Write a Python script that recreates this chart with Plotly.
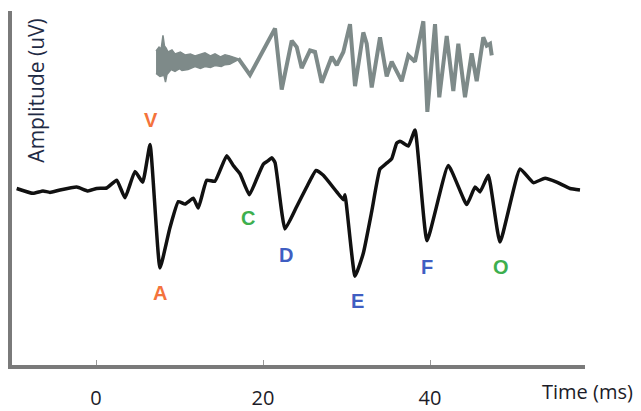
import plotly.graph_objects as go

# --- Speech ABR response (black) ---
resp_t = [-9.5, -7.54, -6.35, -5.51, -4.31, -2.31, -0.96, 0.08, 1.28, 2.48, 3.47, 4.67, 5.59,
          6.47, 7.66, 8.86, 9.86, 10.66, 11.65, 12.25, 13.26, 14.25, 15.65, 16.44, 17.25,
          18.36, 19.25, 20.04, 20.63, 21.04, 21.44, 22.63, 24.04, 25.23, 26.35, 27.22,
          28.83, 29.62, 29.82, 31.02, 32.01, 33.02, 34.01, 34.81, 35.41, 36.01, 36.41,
          37.40, 38.20, 39.64, 42.19, 44.40, 45.39, 45.99, 46.98, 48.38, 50.78, 52.37,
          53.77, 55.17, 56.77, 57.96]
resp_uv = [0.00, -0.10, -0.05, -0.08, -0.03, 0.03, -0.05, 0.00, 0.01, 0.17, -0.19, 0.35, 0.13,
           0.90, -1.63, -0.80, -0.27, -0.32, -0.20, -0.40, 0.17, 0.15, 0.67, 0.47, 0.30,
           -0.13, 0.20, 0.50, 0.57, 0.63, 0.53, -0.83, -0.37, 0.03, 0.37, 0.27,
           -0.07, -0.23, -0.13, -1.80, -1.33, -0.47, 0.40, 0.52, 0.61, 0.93, 0.97,
           0.87, 1.20, -1.07, 0.47, -0.33, 0.03, -0.07, 0.27, -1.10, 0.40, 0.12,
           0.21, 0.13, 0.00, -0.03]

# --- Stimulus /da/ (grey), drawn offset above the response ---
burst_t_upper = [7.19, 7.55, 7.80, 8.02, 8.20, 8.40, 8.62, 9.10, 9.46, 10.1, 10.66, 11.3,
                 11.86, 12.5, 13.05, 13.7, 14.25, 14.9, 15.45, 16.0, 16.41, 17.01]
burst_upper = [2.82, 2.90, 2.86, 3.14, 2.92, 2.88, 2.80, 2.84, 2.76, 2.80, 2.74, 2.76,
               2.72, 2.76, 2.78, 2.72, 2.76, 2.70, 2.74, 2.72, 2.70, 2.66]
burst_t_lower = [7.19, 7.66, 8.14, 8.32, 8.50, 9.0, 9.46, 10.0, 10.30, 11.02, 11.86, 12.5,
                 13.05, 13.7, 14.25, 15.0, 15.45, 16.0, 16.41, 17.01]
burst_lower = [2.36, 2.30, 2.32, 2.18, 2.34, 2.44, 2.40, 2.46, 2.42, 2.44, 2.50, 2.46,
               2.50, 2.48, 2.52, 2.50, 2.54, 2.55, 2.58, 2.64]

stim_t = [17.04, 18.44, 21.44, 22.24, 23.44, 24.04, 24.63, 25.63, 26.23, 27.03, 28.23, 28.83,
          29.62, 30.42, 31.02, 32.01, 32.42, 33.02, 34.01, 34.81, 35.41, 36.61, 37.40, 38.20,
          39.20, 39.68, 40.60, 41.11, 42.00, 42.79, 43.39, 44.19, 44.99, 45.59, 46.38, 46.79,
          47.19, 47.39]
stim_amp = [2.67, 2.33, 3.28, 2.03, 3.03, 2.90, 2.47, 2.83, 2.80, 2.17, 2.70, 2.53,
            2.80, 3.37, 2.10, 3.20, 2.97, 2.07, 3.10, 2.30, 2.60, 2.20, 2.73, 2.60,
            3.43, 1.57, 3.37, 1.87, 3.13, 2.00, 2.97, 1.87, 2.77, 2.20, 3.10, 2.93,
            2.97, 2.73]

# --- Peak labels ---
peak_names = ["V", "A", "C", "D", "E", "F", "O"]
peak_t = [6.55, 7.66, 18.22, 22.75, 31.34, 39.60, 48.50]
peak_label_uv = [1.40, -2.15, -0.60, -1.37, -2.31, -1.60, -1.60]
peak_colors = ["#F4733C", "#F4733C", "#3DAF4E", "#3F5EC2", "#3F5EC2", "#3F5EC2", "#3DAF4E"]

tick_vals = [0, 20, 40]
tick_text = ["0", "20", "40"]

grey = "#7E8A89"

fig = go.Figure()

fig.add_trace(go.Scatter(
    x=burst_t_upper + burst_t_lower[::-1],
    y=burst_upper + burst_lower[::-1],
    fill="toself", fillcolor=grey, mode="lines",
    line=dict(color=grey, width=1.5), hoverinfo="skip", showlegend=False))

fig.add_trace(go.Scatter(
    x=stim_t, y=stim_amp, mode="lines",
    line=dict(color=grey, width=4), showlegend=False))

fig.add_trace(go.Scatter(
    x=resp_t, y=resp_uv, mode="lines",
    line=dict(color="#111111", width=3.5, shape="spline", smoothing=0.4),
    showlegend=False))

for name, t, v, c in zip(peak_names, peak_t, peak_label_uv, peak_colors):
    fig.add_annotation(x=t, y=v, text=f"<b>{name}</b>", showarrow=False,
                       font=dict(family="Liberation Sans, Arial", size=20, color=c))

fig.add_annotation(xref="paper", yref="paper", x=1.0, xshift=2, y=0, yshift=-26,
                   text="Time (ms)", showarrow=False, xanchor="center", yanchor="middle",
                   font=dict(family="Open Sans", size=20, color="#1c1c28"))

fig.add_annotation(xref="paper", yref="paper", x=0, xshift=24, y=0.775,
                   text="Amplitude (uV)", textangle=-90, showarrow=False,
                   xanchor="center", yanchor="middle",
                   font=dict(family="Open Sans", size=21, color="#1f2b45"))

fig.update_layout(
    width=633, height=406,
    margin=dict(l=4, r=56, t=3, b=40),
    paper_bgcolor="white", plot_bgcolor="white",
    xaxis=dict(range=[-10.06, 58.56], showgrid=False, zeroline=False,
               showline=True, linecolor="#7a7a7a", linewidth=4,
               tickvals=tick_vals, ticktext=tick_text,
               ticks="inside", ticklen=5, tickwidth=1, tickcolor="#999",
               ticklabelstandoff=12,
               tickfont=dict(family="Open Sans", size=20, color="#1c1c28")),
    yaxis=dict(range=[-3.62, 3.64], showgrid=False, zeroline=False,
               showline=True, linecolor="#7a7a7a", linewidth=4,
               showticklabels=False, ticks=""),
)

fig.write_html("out.html")
